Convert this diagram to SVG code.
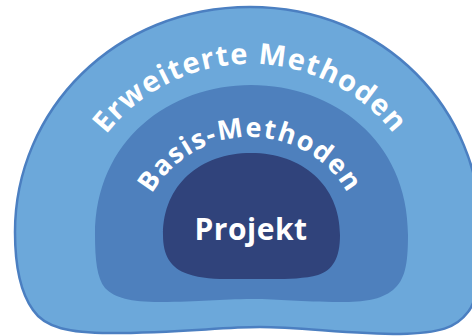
<svg xmlns="http://www.w3.org/2000/svg" width="472" height="336" viewBox="0 0 472 336">
  <style>
    .lbl { fill: #ffffff; font-family: "Open Sans", "Noto Sans", sans-serif; font-weight: 700; }
  </style>
  <defs>
    <path id="arcOuter" d="M68,246 A182,182 0 0 1 432,246"/>
    <path id="arcMiddle" d="M137,250 A113,113 0 0 1 363,250"/>
  </defs>
  <rect width="472" height="336" fill="#ffffff"/>
  <g id="erweiterte-methoden">
    <path d="M15,232 C15,110 115,7 250,7 C385,7 481,110 481,232 C481,270 478,300 468,312 C456,328 440,333 400,334 C350,334 300,327 260,327 C220,327 180,333 110,333 C70,333 45,328 33,310 C20,292 15,265 15,232 Z" fill="#6ca8da" stroke="#4b7fc1" stroke-width="2.5"/>
    <text class="lbl" font-size="29" letter-spacing="1.2" text-anchor="middle"><textPath href="#arcOuter" startOffset="50%">Erweiterte Methoden</textPath></text>
  </g>
  <g id="basis-methoden">
    <path d="M95,235 C95,140 170,85 251,85 C333,85 408,140 408,235 C408,265 405,280 393,290 C380,300 365,302 340,302 C300,302 280,299 252,299 C220,299 200,302 160,302 C130,302 115,298 105,288 C97,278 95,260 95,235 Z" fill="#4e80bd"/>
    <text class="lbl" font-size="27" letter-spacing="1.5" text-anchor="middle"><textPath href="#arcMiddle" startOffset="50%">Basis-Methoden</textPath></text>
  </g>
  <g id="projekt">
    <path d="M163,235 C163,185 200,153 251,153 C302,153 340,185 340,235 C340,258 333,270 318,275 C300,280 275,279 251,279 C225,279 205,280 188,274 C170,268 163,255 163,235 Z" fill="#30437b"/>
    <text class="lbl" x="251" y="240" font-size="30" letter-spacing="0.5" text-anchor="middle">Projekt</text>
  </g>
  <g id="connectors"/>
</svg>
